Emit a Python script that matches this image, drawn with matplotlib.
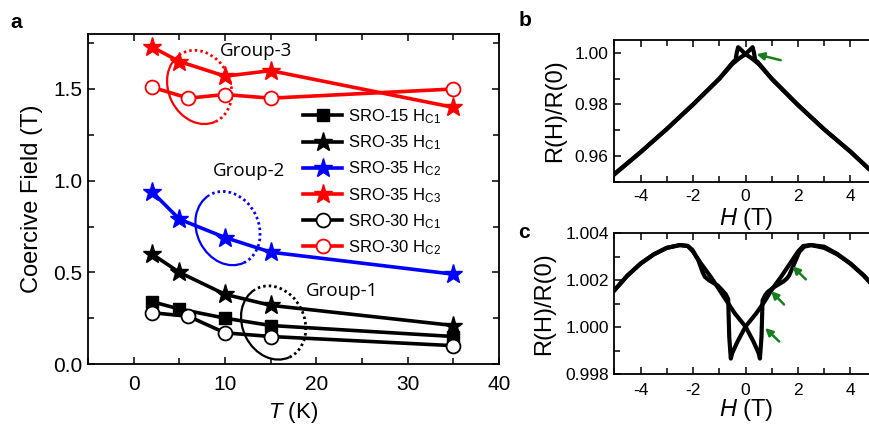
import matplotlib
matplotlib.use("Agg")
import matplotlib.pyplot as plt
import matplotlib.transforms as mtransforms
from matplotlib.patches import Arc
from matplotlib.ticker import MultipleLocator, FormatStrFormatter

plt.rcParams['font.family'] = ['Liberation Sans', 'DejaVu Sans']
plt.rcParams['mathtext.fontset'] = 'custom'
plt.rcParams['mathtext.rm'] = 'Liberation Sans'
plt.rcParams['mathtext.it'] = 'Liberation Sans:italic'
plt.rcParams['mathtext.default'] = 'regular'
plt.rcParams['axes.unicode_minus'] = False

# ---------------- data: panel a ----------------
T_sro15 = [2, 5, 10, 15, 35]
hc1_sro15 = [0.34, 0.30, 0.25, 0.21, 0.15]
T_sro35 = [2, 5, 10, 15, 35]
hc1_sro35 = [0.60, 0.50, 0.38, 0.32, 0.21]
hc2_sro35 = [0.94, 0.79, 0.69, 0.61, 0.49]
hc3_sro35 = [1.73, 1.65, 1.57, 1.60, 1.40]
T_sro30 = [2, 6, 10, 15, 35]
hc1_sro30 = [0.28, 0.26, 0.17, 0.15, 0.10]
hc2_sro30 = [1.51, 1.45, 1.47, 1.45, 1.50]
labels = ['SRO-15 H$_{C1}$', 'SRO-35 H$_{C1}$', 'SRO-35 H$_{C2}$',
          'SRO-35 H$_{C3}$', 'SRO-30 H$_{C1}$', 'SRO-30 H$_{C2}$']
group_names = ['Group-1', 'Group-2', 'Group-3']
group_text_pos = [(22.8, 0.40), (12.6, 1.05), (13.4, 1.71)]
group_ellipse_center = [(15.3, 0.225), (10.3, 0.74), (7.2, 1.51)]
group_colors = ['black', 'blue', 'red']

# ---------------- data: panel b ----------------
Hb_down = [5.0, 4.7, 4.0, 3.0, 2.0, 1.0, 0.5, 0.25, 0.0, -0.15, -0.28, -0.33, -0.38,
           -0.47, -1.0, -2.0, -3.0, -4.0, -5.0]
Rb_down = [0.9528, 0.9550, 0.9616, 0.9703, 0.9798, 0.9900, 0.9957, 0.9978, 0.9995,
           1.0010, 1.0022, 1.0002, 0.9972, 0.9965, 0.9900, 0.9800, 0.9705, 0.9614, 0.9528]
Hb_up = [-5.0, -4.0, -3.0, -2.0, -1.0, -0.5, -0.25, 0.0, 0.15, 0.27, 0.32, 0.37,
         0.47, 1.0, 2.0, 3.0, 4.0, 4.7, 5.0]
Rb_up = [0.9530, 0.9615, 0.9704, 0.9799, 0.9899, 0.9957, 0.9978, 0.9995, 1.0010,
         1.0022, 1.0002, 0.9972, 0.9964, 0.9899, 0.9797, 0.9703, 0.9617, 0.9550, 0.9528]

# ---------------- data: panel c ----------------
Hc_down = [5.0, 4.5, 4.0, 3.5, 3.0, 2.5, 2.2, 2.0, 1.7, 1.35, 1.0, 0.71, 0.4, 0.0,
           -0.3, -0.5, -0.56, -0.62, -0.66, -0.75, -0.88, -1.07, -1.39, -1.55, -1.64,
           -1.8, -2.02, -2.2, -2.5, -3.0, -3.5, -4.0, -4.5, -5.0]
Rc_down = [1.00160, 1.00220, 1.00271, 1.00310, 1.00338, 1.00350, 1.00346, 1.00322,
           1.00272, 1.00214, 1.00160, 1.00107, 1.00058, 1.00003, 0.99940, 0.99892,
           0.99867, 0.99960, 1.00120, 1.00140, 1.00157, 1.00179, 1.00200, 1.00215,
           1.00236, 1.00286, 1.00329, 1.00346, 1.00350, 1.00338, 1.00310, 1.00271,
           1.00220, 1.00157]
Hc_up = [-5.0, -4.5, -4.0, -3.5, -3.0, -2.5, -2.2, -2.0, -1.7, -1.32, -1.0, -0.69,
         -0.4, 0.0, 0.3, 0.5, 0.55, 0.61, 0.65, 0.74, 0.84, 1.09, 1.47, 1.58, 1.66,
         1.86, 2.05, 2.24, 2.5, 3.0, 3.5, 4.0, 4.5, 4.74, 5.0]
Rc_up = [1.00157, 1.00220, 1.00271, 1.00310, 1.00338, 1.00350, 1.00346, 1.00322,
         1.00272, 1.00214, 1.00160, 1.00107, 1.00058, 1.00003, 0.99940, 0.99890,
         0.99867, 0.99960, 1.00114, 1.00135, 1.00150, 1.00171, 1.00197, 1.00208,
         1.00220, 1.00271, 1.00321, 1.00343, 1.00350, 1.00343, 1.00312, 1.00271,
         1.00222, 1.00193, 1.00160]

# arrows (tail, tip) in data units
arrows_b = [((1.34, 0.99716), (0.42, 0.9995))]
arrows_c = [((2.30, 1.00204), (1.79, 1.00260)),
            ((1.47, 1.00097), (0.97, 1.00154)),
            ((1.28, 0.99940), (0.75, 0.99997))]
arrow_green = '#15801a'

W, H = 869, 425
fig = plt.figure(figsize=(W / 100, H / 100), dpi=100)

def frac(l, t, r, b):
    return [l / W, 1 - b / H, (r - l) / W, (b - t) / H]

axa = fig.add_axes(frac(88, 34, 499, 364))
axb = fig.add_axes(frac(614.3, 40, 876.7, 181.7))
axc = fig.add_axes(frac(614.3, 233.3, 876.7, 374.3))

lw = 2.6
axa.plot(T_sro15, hc1_sro15, color='black', lw=lw, marker='s', ms=9, label=labels[0], zorder=3)
axa.plot(T_sro35, hc1_sro35, color='black', lw=lw, marker='*', ms=14, label=labels[1], zorder=3)
axa.plot(T_sro35, hc2_sro35, color='blue', lw=lw, marker='*', ms=14, label=labels[2], zorder=3)
axa.plot(T_sro35, hc3_sro35, color='red', lw=lw, marker='*', ms=14, label=labels[3], zorder=3)
axa.plot(T_sro30, hc1_sro30, color='black', lw=lw, marker='o', ms=10, mfc='white',
         mec='black', mew=1.3, label=labels[4], zorder=4)
axa.plot(T_sro30, hc2_sro30, color='red', lw=lw, marker='o', ms=10, mfc='white',
         mec='red', mew=1.3, label=labels[5], zorder=4)

axa.set_xlim(-5, 40)
axa.set_ylim(0, 1.8)
axa.xaxis.set_major_locator(MultipleLocator(10))
axa.xaxis.set_minor_locator(MultipleLocator(5))
axa.yaxis.set_major_locator(MultipleLocator(0.5))
axa.yaxis.set_minor_locator(MultipleLocator(0.25))
axa.yaxis.set_major_formatter(FormatStrFormatter('%.1f'))

# group ellipses: solid left half, dotted right half
for (cx, cy), col in zip(group_ellipse_center, group_colors):
    tr = fig.dpi_scale_trans + mtransforms.ScaledTranslation(cx, cy, axa.transData)
    axa.add_patch(Arc((0, 0), 0.62, 0.76, angle=25, theta1=94, theta2=270,
                      transform=tr, color=col, lw=1.6, zorder=2))
    axa.add_patch(Arc((0, 0), 0.62, 0.76, angle=25, theta1=-90, theta2=94,
                      transform=tr, color=col, lw=2.0, ls=(0, (0.9, 1.1)), zorder=2))
for name, (gx, gy) in zip(group_names, group_text_pos):
    axa.text(gx, gy, name, fontsize=13.5, family=['Open Sans', 'DejaVu Sans'],
             ha='center', va='center')

axa.set_ylabel('Coercive Field (T)', fontsize=17, va='center')
axa.yaxis.set_label_coords(-0.136, 0.5)
axa.set_xlabel(r'$\mathit{T}$ (K)', fontsize=16, va='center')
axa.xaxis.set_label_coords(0.5, -0.148)

leg = axa.legend(loc='upper left', bbox_to_anchor=(0.524, 0.778), frameon=False,
                 fontsize=12, handlelength=2.3, handletextpad=0.35, labelspacing=0.45,
                 borderpad=0, borderaxespad=0)

# panel b
axb.plot(Hb_down, Rb_down, color='black', lw=3.0, solid_joinstyle='round')
axb.plot(Hb_up, Rb_up, color='black', lw=3.0, solid_joinstyle='round')
axb.set_xlim(-5, 5)
axb.set_ylim(0.950, 1.005)
axb.xaxis.set_major_locator(MultipleLocator(2))
axb.xaxis.set_minor_locator(MultipleLocator(1))
axb.yaxis.set_major_locator(MultipleLocator(0.02))
axb.yaxis.set_minor_locator(MultipleLocator(0.01))
axb.yaxis.set_major_formatter(FormatStrFormatter('%.2f'))
axb.set_ylabel('R(H)/R(0)', fontsize=17, va='center')
axb.yaxis.set_label_coords((555 - 614.3) / 262.4, 0.5)
axb.set_xlabel(r'$\mathit{H}$ (T)', fontsize=17, va='center')
axb.xaxis.set_label_coords((746.7 - 614.3) / 262.4, -(218.5 - 181.7) / 141.7)

# panel c
axc.plot(Hc_down, Rc_down, color='black', lw=3.0, solid_joinstyle='round')
axc.plot(Hc_up, Rc_up, color='black', lw=3.0, solid_joinstyle='round')
axc.set_xlim(-5, 5)
axc.set_ylim(0.998, 1.004)
axc.xaxis.set_major_locator(MultipleLocator(2))
axc.xaxis.set_minor_locator(MultipleLocator(1))
axc.yaxis.set_major_locator(MultipleLocator(0.002))
axc.yaxis.set_minor_locator(MultipleLocator(0.001))
axc.yaxis.set_major_formatter(FormatStrFormatter('%.3f'))
axc.set_ylabel('R(H)/R(0)', fontsize=17, va='center')
axc.yaxis.set_label_coords((544 - 614.3) / 262.4, 0.5)
axc.set_xlabel(r'$\mathit{H}$ (T)', fontsize=17, va='center')
axc.xaxis.set_label_coords((746.7 - 614.3) / 262.4, -(410 - 374.3) / 141)

for ax, arrs in ((axb, arrows_b), (axc, arrows_c)):
    for tail, tip in arrs:
        ax.annotate('', xy=tip, xytext=tail,
                    arrowprops=dict(arrowstyle='-|>', color=arrow_green, lw=1.8,
                                    mutation_scale=11, shrinkA=0, shrinkB=0))

for ax in (axa, axb, axc):
    for s in ax.spines.values():
        s.set_linewidth(1.3)
    ax.tick_params(which='both', direction='in', top=True, right=True, width=1.1)
    ax.tick_params(which='major', length=5)
    ax.tick_params(which='minor', length=4)
    ax.tick_params(axis='y', pad=4)

axa.tick_params(labelsize=15)
axa.tick_params(axis='x', pad=8)
axb.tick_params(labelsize=12.5)
axb.tick_params(axis='x', pad=5.5)
axc.tick_params(labelsize=12.5)
axc.tick_params(axis='x', pad=6)

fig.text(16 / W, 1 - 22.5 / H, 'a', fontsize=15, fontweight='bold', ha='center', va='center')
fig.text(525 / W, 1 - 20 / H, 'b', fontsize=15, fontweight='bold', ha='center', va='center')
fig.text(524 / W, 1 - 233 / H, 'c', fontsize=15, fontweight='bold', ha='center', va='center')

fig.savefig('out.png', dpi=100)
